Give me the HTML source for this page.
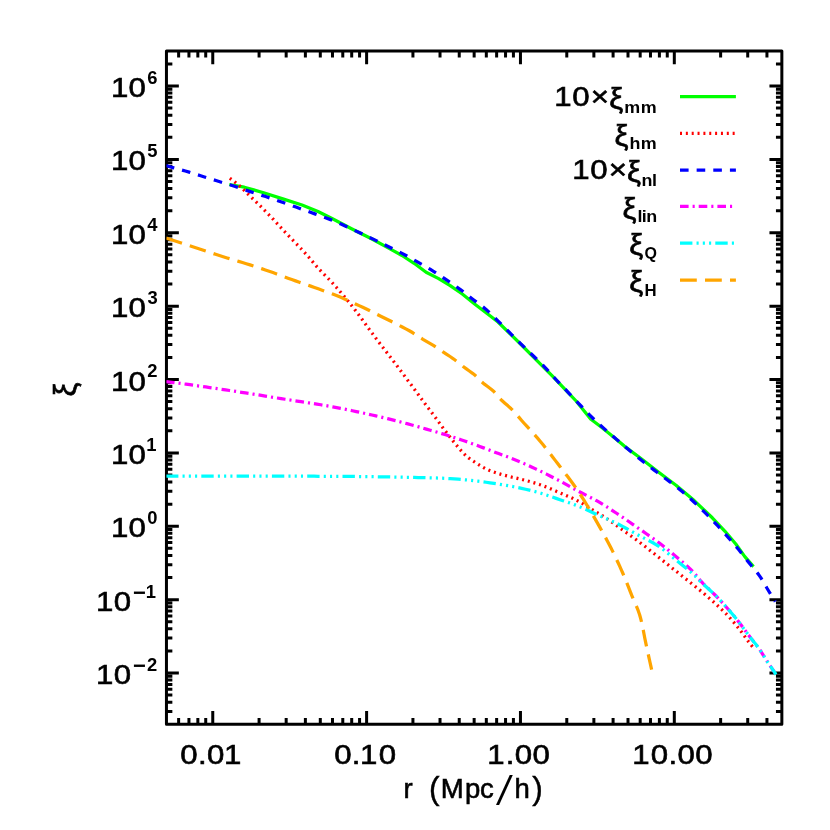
<!DOCTYPE html>
<html lang="en"><head><meta charset="utf-8"><title>Correlation functions</title>
<style>
html,body{margin:0;padding:0;background:#fff;}
body{width:830px;height:830px;overflow:hidden;}
svg{display:block;}
text{font-family:"Liberation Sans",sans-serif;fill:#000;}
.m{font-size:27.5px;stroke:#000;stroke-width:0.6px;}
.mn{font-size:22px;}
.x{stroke-width:0.6px;}
.p{font-size:31.7px;stroke-width:0.4px;}
.sl{font-size:40px;font-style:italic;stroke-width:0;}
.s{font-size:18.4px;font-weight:bold;}
.c{font-size:16px;font-weight:bold;}
</style></head><body>
<svg width="830" height="830" viewBox="0 0 830 830" style="will-change:transform">
<rect x="0" y="0" width="830" height="830" fill="#ffffff"/>
<path d="M178.63 724.3 v-6.4 M178.63 51 v6.4 M188.93 724.3 v-6.4 M188.93 51 v6.4 M197.85 724.3 v-6.4 M197.85 51 v6.4 M205.72 724.3 v-6.4 M205.72 51 v6.4 M212.76 724.3 v-13.3 M212.76 51 v13.3 M259.08 724.3 v-6.4 M259.08 51 v6.4 M286.17 724.3 v-6.4 M286.17 51 v6.4 M305.39 724.3 v-6.4 M305.39 51 v6.4 M320.3 724.3 v-6.4 M320.3 51 v6.4 M332.48 724.3 v-6.4 M332.48 51 v6.4 M342.78 724.3 v-6.4 M342.78 51 v6.4 M351.7 724.3 v-6.4 M351.7 51 v6.4 M359.57 724.3 v-6.4 M359.57 51 v6.4 M366.61 724.3 v-13.3 M366.61 51 v13.3 M412.93 724.3 v-6.4 M412.93 51 v6.4 M440.02 724.3 v-6.4 M440.02 51 v6.4 M459.24 724.3 v-6.4 M459.24 51 v6.4 M474.15 724.3 v-6.4 M474.15 51 v6.4 M486.33 724.3 v-6.4 M486.33 51 v6.4 M496.63 724.3 v-6.4 M496.63 51 v6.4 M505.55 724.3 v-6.4 M505.55 51 v6.4 M513.42 724.3 v-6.4 M513.42 51 v6.4 M520.46 724.3 v-13.3 M520.46 51 v13.3 M566.78 724.3 v-6.4 M566.78 51 v6.4 M593.87 724.3 v-6.4 M593.87 51 v6.4 M613.09 724.3 v-6.4 M613.09 51 v6.4 M628 724.3 v-6.4 M628 51 v6.4 M640.18 724.3 v-6.4 M640.18 51 v6.4 M650.48 724.3 v-6.4 M650.48 51 v6.4 M659.4 724.3 v-6.4 M659.4 51 v6.4 M667.27 724.3 v-6.4 M667.27 51 v6.4 M674.31 724.3 v-13.3 M674.31 51 v13.3 M720.63 724.3 v-6.4 M720.63 51 v6.4 M747.72 724.3 v-6.4 M747.72 51 v6.4 M766.94 724.3 v-6.4 M766.94 51 v6.4 M166.45 711.38 h5.9 M781.85 711.38 h-5.9 M166.45 702.21 h5.9 M781.85 702.21 h-5.9 M166.45 695.1 h5.9 M781.85 695.1 h-5.9 M166.45 689.29 h5.9 M781.85 689.29 h-5.9 M166.45 684.38 h5.9 M781.85 684.38 h-5.9 M166.45 680.12 h5.9 M781.85 680.12 h-5.9 M166.45 676.37 h5.9 M781.85 676.37 h-5.9 M166.45 673.01 h12.4 M781.85 673.01 h-12.4 M166.45 650.92 h5.9 M781.85 650.92 h-5.9 M166.45 638 h5.9 M781.85 638 h-5.9 M166.45 628.84 h5.9 M781.85 628.84 h-5.9 M166.45 621.73 h5.9 M781.85 621.73 h-5.9 M166.45 615.92 h5.9 M781.85 615.92 h-5.9 M166.45 611 h5.9 M781.85 611 h-5.9 M166.45 606.75 h5.9 M781.85 606.75 h-5.9 M166.45 602.99 h5.9 M781.85 602.99 h-5.9 M166.45 599.64 h12.4 M781.85 599.64 h-12.4 M166.45 577.55 h5.9 M781.85 577.55 h-5.9 M166.45 564.63 h5.9 M781.85 564.63 h-5.9 M166.45 555.46 h5.9 M781.85 555.46 h-5.9 M166.45 548.35 h5.9 M781.85 548.35 h-5.9 M166.45 542.54 h5.9 M781.85 542.54 h-5.9 M166.45 537.63 h5.9 M781.85 537.63 h-5.9 M166.45 533.37 h5.9 M781.85 533.37 h-5.9 M166.45 529.62 h5.9 M781.85 529.62 h-5.9 M166.45 526.26 h12.4 M781.85 526.26 h-12.4 M166.45 504.17 h5.9 M781.85 504.17 h-5.9 M166.45 491.25 h5.9 M781.85 491.25 h-5.9 M166.45 482.09 h5.9 M781.85 482.09 h-5.9 M166.45 474.97 h5.9 M781.85 474.97 h-5.9 M166.45 469.16 h5.9 M781.85 469.16 h-5.9 M166.45 464.25 h5.9 M781.85 464.25 h-5.9 M166.45 460 h5.9 M781.85 460 h-5.9 M166.45 456.24 h5.9 M781.85 456.24 h-5.9 M166.45 452.89 h12.4 M781.85 452.89 h-12.4 M166.45 430.8 h5.9 M781.85 430.8 h-5.9 M166.45 417.88 h5.9 M781.85 417.88 h-5.9 M166.45 408.71 h5.9 M781.85 408.71 h-5.9 M166.45 401.6 h5.9 M781.85 401.6 h-5.9 M166.45 395.79 h5.9 M781.85 395.79 h-5.9 M166.45 390.88 h5.9 M781.85 390.88 h-5.9 M166.45 386.62 h5.9 M781.85 386.62 h-5.9 M166.45 382.87 h5.9 M781.85 382.87 h-5.9 M166.45 379.51 h12.4 M781.85 379.51 h-12.4 M166.45 357.42 h5.9 M781.85 357.42 h-5.9 M166.45 344.5 h5.9 M781.85 344.5 h-5.9 M166.45 335.33 h5.9 M781.85 335.33 h-5.9 M166.45 328.22 h5.9 M781.85 328.22 h-5.9 M166.45 322.41 h5.9 M781.85 322.41 h-5.9 M166.45 317.5 h5.9 M781.85 317.5 h-5.9 M166.45 313.25 h5.9 M781.85 313.25 h-5.9 M166.45 309.49 h5.9 M781.85 309.49 h-5.9 M166.45 306.14 h12.4 M781.85 306.14 h-12.4 M166.45 284.05 h5.9 M781.85 284.05 h-5.9 M166.45 271.13 h5.9 M781.85 271.13 h-5.9 M166.45 261.96 h5.9 M781.85 261.96 h-5.9 M166.45 254.85 h5.9 M781.85 254.85 h-5.9 M166.45 249.04 h5.9 M781.85 249.04 h-5.9 M166.45 244.13 h5.9 M781.85 244.13 h-5.9 M166.45 239.87 h5.9 M781.85 239.87 h-5.9 M166.45 236.12 h5.9 M781.85 236.12 h-5.9 M166.45 232.76 h12.4 M781.85 232.76 h-12.4 M166.45 210.67 h5.9 M781.85 210.67 h-5.9 M166.45 197.75 h5.9 M781.85 197.75 h-5.9 M166.45 188.58 h5.9 M781.85 188.58 h-5.9 M166.45 181.47 h5.9 M781.85 181.47 h-5.9 M166.45 175.66 h5.9 M781.85 175.66 h-5.9 M166.45 170.75 h5.9 M781.85 170.75 h-5.9 M166.45 166.5 h5.9 M781.85 166.5 h-5.9 M166.45 162.74 h5.9 M781.85 162.74 h-5.9 M166.45 159.38 h12.4 M781.85 159.38 h-12.4 M166.45 137.3 h5.9 M781.85 137.3 h-5.9 M166.45 124.38 h5.9 M781.85 124.38 h-5.9 M166.45 115.21 h5.9 M781.85 115.21 h-5.9 M166.45 108.1 h5.9 M781.85 108.1 h-5.9 M166.45 102.29 h5.9 M781.85 102.29 h-5.9 M166.45 97.37 h5.9 M781.85 97.37 h-5.9 M166.45 93.12 h5.9 M781.85 93.12 h-5.9 M166.45 89.37 h5.9 M781.85 89.37 h-5.9 M166.45 86.01 h12.4 M781.85 86.01 h-12.4 M166.45 63.92 h5.9 M781.85 63.92 h-5.9" fill="none" stroke="#000" stroke-width="3.0"/>
<rect x="166.45" y="51" width="615.4" height="673.3" fill="none" stroke="#000" stroke-width="3.0" stroke-linejoin="round"/>
<defs><clipPath id="clip"><rect x="166.45" y="51" width="615.4" height="673.3"/></clipPath></defs>
<g clip-path="url(#clip)" fill="none" stroke-width="3.25" stroke-linejoin="round">
<path d="M229.3 184.5 L244.3 187.2 L263.6 192.7 L282.8 198.9 L302 205 L318 211.5 L332 218.5 L352 229 L372 239 L390 248.9 L402 255.5 L414.1 263.3 L426.1 272.3 L438.2 278.4 L450.2 285.6 L462.3 294 L474.3 303.7 L490 315.7 L498 322 L518 341.5 L540 363.6 L552 375.7 L564.1 388.3 L576.1 401 L590.6 419 L600.2 426.3 L612.3 435.9 L624.3 446.1 L640 457.8 L658 471.7 L676 485.2 L694.2 500.6 L712.3 517.8 L725 531.3 L735.8 544 L744.8 556.6 L753.5 566.6" stroke="#00ff00"/>
<path d="M229.8 178.2 L233.05 180.57 L236.2 183.05 L239.25 185.62 L242.18 188.35 L245.03 191.17 L247.9 193.98 L250.79 196.76 L253.67 199.54 L256.55 202.33 L259.41 205.13 L262.26 207.95 L265.08 210.8 L267.87 213.67 L270.65 216.56 L273.4 219.47 L276.13 222.41 L278.85 225.35 L281.57 228.29 L284.29 231.23 L287.02 234.16 L289.8 237.06 L292.6 239.92 L295.41 242.78 L298.19 245.67 L300.96 248.56 L303.7 251.49 L306.4 254.45 L309.03 257.47 L311.6 260.54 L314.18 263.62 L316.79 266.65 L319.49 269.61 L322.27 272.5 L325.09 275.35 L327.91 278.2 L330.69 281.08 L333.39 284.04 L336.06 287.02 L338.71 290.03 L341.33 293.07 L343.93 296.13 L346.5 299.21 L349.04 302.31 L351.54 305.43 L354.02 308.57 L356.45 311.76 L358.84 314.97 L361.21 318.2 L363.57 321.44 L365.92 324.69 L368.27 327.94 L370.64 331.17 L373.04 334.39 L375.44 337.6 L377.85 340.8 L380.27 343.99 L382.71 347.17 L385.15 350.34 L387.6 353.52 L390.04 356.69 L392.48 359.87 L394.91 363.06 L397.32 366.26 L399.73 369.46 L402.13 372.67 L404.52 375.89 L406.9 379.11 L409.29 382.33 L411.67 385.55 L414.05 388.78 L416.41 392.01 L418.78 395.25 L421.15 398.48 L423.53 401.7 L425.93 404.91 L428.34 408.11 L430.75 411.31 L433.16 414.51 L435.56 417.72 L437.93 420.95 L440.3 424.19 L442.68 427.41 L445.09 430.61 L447.5 433.81 L449.93 437.01 L452.39 440.18 L454.9 443.29 L457.48 446.37 L460.08 449.46 L462.76 452.47 L465.56 455.31 L468.57 457.88 L471.82 460.21 L475.21 462.42 L478.59 464.57 L482.01 466.7 L485.52 468.64 L489.15 470.27 L492.9 471.7 L496.71 472.98 L500.53 474.17 L504.39 475.25 L508.27 476.26 L512.17 477.21 L516.08 478.08 L519.98 479 L523.87 479.98 L527.75 480.99 L531.62 482.06 L535.46 483.19 L539.26 484.42 L543.02 485.78 L546.75 487.25 L550.46 488.78 L554.15 490.36 L557.84 491.93 L561.54 493.49 L565.23 495.06 L568.92 496.67 L572.57 498.33 L576.17 500.07 L579.7 501.91 L583.17 503.91 L586.58 506.01 L589.98 508.16 L593.37 510.3 L596.79 512.4 L600.21 514.49 L603.62 516.59 L607 518.75 L610.33 520.97 L613.6 523.29 L616.83 525.66 L620.05 528.04 L623.28 530.42 L626.54 532.75 L629.8 535.08 L633.06 537.42 L636.29 539.78 L639.5 542.18 L642.67 544.62 L645.83 547.09 L648.98 549.58 L652.12 552.06 L655.26 554.55 L658.4 557.05 L661.52 559.55 L664.65 562.06 L667.78 564.56 L670.91 567.07 L674.04 569.57 L677.17 572.07 L680.3 574.58 L683.43 577.08 L686.56 579.58 L689.69 582.08 L692.82 584.58 L695.94 587.09 L699.07 589.6 L702.17 592.14 L705.24 594.71 L708.29 597.31 L711.31 599.95 L714.3 602.62 L717.26 605.32 L720.19 608.05 L723.09 610.83 L725.92 613.67 L728.66 616.57 L731.35 619.55 L733.98 622.58 L736.55 625.66 L739.06 628.78 L741.48 631.97 L743.84 635.21 L746.18 638.46 L748.56 641.69 L751.01 644.86 L753.5 648" stroke="#ff0000" stroke-dasharray="2 3.85"/>
<path d="M166 165.6 L169.84 166.75 L173.71 167.84 L177.58 168.88 L181.46 169.92 L185.32 171 L189.17 172.15 L193 173.34 L196.82 174.56 L200.65 175.78 L204.48 176.98 L208.31 178.18 L212.14 179.38 L215.97 180.57 L219.8 181.75 L223.65 182.92 L227.49 184.08 L231.32 185.25 L235.15 186.47 L238.95 187.74 L242.75 189.04 L246.55 190.34 L250.35 191.62 L254.17 192.86 L257.99 194.1 L261.81 195.33 L265.62 196.57 L269.43 197.84 L273.24 199.11 L277.04 200.4 L280.83 201.7 L284.62 203.02 L288.41 204.36 L292.19 205.71 L295.96 207.07 L299.74 208.43 L303.51 209.79 L307.29 211.16 L311.06 212.53 L314.83 213.9 L318.61 215.25 L322.39 216.6 L326.17 217.96 L329.92 219.38 L333.64 220.87 L337.33 222.44 L340.99 224.07 L344.64 225.74 L348.28 227.44 L351.92 229.15 L355.55 230.86 L359.19 232.55 L362.83 234.24 L366.47 235.94 L370.1 237.66 L373.72 239.38 L377.33 241.13 L380.93 242.9 L384.53 244.68 L388.12 246.47 L391.72 248.25 L395.33 250.01 L398.93 251.78 L402.51 253.59 L406.05 255.48 L409.55 257.43 L413.04 259.42 L416.52 261.42 L420.01 263.41 L423.5 265.39 L426.98 267.39 L430.44 269.43 L433.85 271.53 L437.22 273.71 L440.56 275.93 L443.89 278.18 L447.22 280.42 L450.55 282.67 L453.87 284.93 L457.16 287.22 L460.41 289.57 L463.6 292 L466.75 294.48 L469.89 296.98 L473.05 299.46 L476.26 301.88 L479.5 304.27 L482.7 306.69 L485.82 309.2 L488.8 311.86 L491.69 314.65 L494.52 317.5 L497.35 320.36 L500.2 323.18 L503.05 326.02 L505.88 328.86 L508.71 331.71 L511.54 334.55 L514.37 337.39 L517.22 340.22 L520.07 343.04 L522.94 345.85 L525.82 348.65 L528.7 351.44 L531.58 354.24 L534.45 357.03 L537.33 359.84 L540.2 362.64 L543.07 365.44 L545.87 368.31 L548.59 371.27 L551.25 374.27 L553.92 377.27 L556.62 380.24 L559.36 383.17 L562.13 386.07 L564.91 388.97 L567.68 391.88 L570.44 394.79 L573.21 397.69 L575.97 400.6 L578.74 403.51 L581.49 406.43 L584.23 409.37 L586.98 412.29 L589.77 415.17 L592.63 417.99 L595.54 420.75 L598.48 423.48 L601.45 426.19 L604.43 428.87 L607.44 431.52 L610.48 434.15 L613.52 436.77 L616.56 439.39 L619.6 442.01 L622.64 444.63 L625.69 447.24 L628.75 449.83 L631.81 452.42 L634.89 455 L637.99 457.55 L641.12 460.05 L644.28 462.53 L647.46 464.98 L650.65 467.42 L653.84 469.85 L657.04 472.27 L660.25 474.69 L663.48 477.08 L666.72 479.45 L669.94 481.84 L673.14 484.26 L676.29 486.74 L679.4 489.27 L682.49 491.84 L685.54 494.45 L688.57 497.09 L691.56 499.77 L694.51 502.48 L697.43 505.22 L700.33 508 L703.19 510.82 L706.03 513.66 L708.85 516.52 L711.64 519.41 L714.41 522.32 L717.16 525.23 L719.89 528.17 L722.6 531.13 L725.29 534.11 L727.96 537.11 L730.61 540.13 L733.24 543.17 L735.84 546.22 L738.41 549.3 L740.94 552.41 L743.43 555.56 L745.89 558.73 L748.35 561.9 L750.84 565.05 L753.41 568.15 L755.99 571.24 L758.47 574.38 L760.77 577.65 L762.88 581.05 L764.89 584.53 L766.89 588.03 L768.96 591.47 L771.06 594.89 L773.17 598.3 L775.3 601.7" stroke="#0000ff" stroke-dasharray="8.6 8.04"/>
<path d="M166 381.5 L169.98 382.03 L173.96 382.56 L177.94 383.09 L181.92 383.63 L185.89 384.17 L189.87 384.72 L193.85 385.28 L197.82 385.84 L201.79 386.4 L205.77 386.97 L209.74 387.54 L213.71 388.12 L217.69 388.7 L221.66 389.29 L225.63 389.89 L229.6 390.49 L233.56 391.09 L237.53 391.7 L241.5 392.3 L245.47 392.92 L249.43 393.53 L253.4 394.16 L257.36 394.79 L261.33 395.43 L265.29 396.07 L269.25 396.71 L273.22 397.35 L277.18 397.99 L281.14 398.63 L285.11 399.26 L289.07 399.88 L293.04 400.49 L297.01 401.1 L300.98 401.69 L304.95 402.29 L308.92 402.89 L312.89 403.5 L316.85 404.13 L320.82 404.77 L324.77 405.44 L328.72 406.13 L332.67 406.85 L336.62 407.58 L340.56 408.34 L344.5 409.12 L348.44 409.92 L352.37 410.73 L356.3 411.56 L360.23 412.4 L364.15 413.25 L368.07 414.12 L371.98 415 L375.89 415.89 L379.8 416.8 L383.71 417.74 L387.61 418.69 L391.5 419.66 L395.4 420.64 L399.29 421.64 L403.17 422.65 L407.05 423.68 L410.93 424.71 L414.8 425.77 L418.66 426.87 L422.52 427.99 L426.38 429.1 L430.24 430.21 L434.09 431.32 L437.95 432.44 L441.79 433.59 L445.63 434.77 L449.46 435.98 L453.28 437.2 L457.1 438.44 L460.91 439.71 L464.71 440.99 L468.51 442.31 L472.29 443.66 L476.05 445.04 L479.81 446.45 L483.57 447.88 L487.32 449.31 L491.07 450.73 L494.83 452.15 L498.59 453.55 L502.36 454.94 L506.12 456.35 L509.88 457.77 L513.62 459.23 L517.33 460.73 L521.03 462.28 L524.71 463.88 L528.38 465.52 L532.03 467.2 L535.67 468.9 L539.29 470.62 L542.91 472.36 L546.51 474.13 L550.1 475.93 L553.68 477.76 L557.24 479.6 L560.79 481.48 L564.31 483.41 L567.82 485.36 L571.32 487.32 L574.83 489.27 L578.36 491.19 L581.91 493.05 L585.49 494.88 L589.07 496.71 L592.64 498.56 L596.16 500.46 L599.64 502.45 L603.07 504.53 L606.48 506.66 L609.85 508.83 L613.22 511.04 L616.57 513.25 L619.91 515.47 L623.23 517.72 L626.54 520 L629.83 522.29 L633.12 524.59 L636.41 526.9 L639.71 529.18 L643.03 531.45 L646.34 533.72 L649.65 536 L652.94 538.3 L656.19 540.65 L659.39 543.06 L662.56 545.52 L665.7 548.02 L668.82 550.56 L671.91 553.13 L674.97 555.72 L678.03 558.32 L681.11 560.92 L684.18 563.53 L687.21 566.19 L690.16 568.91 L692.99 571.73 L695.64 574.71 L698.1 577.9 L700.69 580.96 L703.46 583.86 L706.33 586.66 L709.25 589.43 L712.17 592.19 L715.05 595 L717.83 597.89 L720.57 600.82 L723.29 603.78 L725.98 606.76 L728.64 609.77 L731.27 612.81 L733.86 615.88 L736.4 618.98 L738.89 622.12 L741.31 625.32 L743.7 628.55 L746.08 631.79 L748.47 635.01 L750.91 638.2 L753.44 641.33 L755.96 644.46 L758.35 647.67 L760.59 650.99 L762.74 654.38 L764.87 657.8 L767.03 661.18 L769.26 664.52 L771.54 667.83 L773.8 671.14 L776 674.5" stroke="#ff00ff" stroke-dasharray="8.6 4 2.1 4"/>
<path d="M166 476 L170 476 L174.01 476.01 L178.01 476.01 L182.02 476.01 L186.02 476.01 L190.02 476.02 L194.03 476.02 L198.03 476.03 L202.03 476.03 L206.04 476.04 L210.04 476.04 L214.05 476.05 L218.05 476.05 L222.05 476.06 L226.06 476.06 L230.06 476.07 L234.06 476.08 L238.07 476.08 L242.07 476.09 L246.08 476.09 L250.08 476.1 L254.08 476.11 L258.09 476.11 L262.09 476.12 L266.1 476.13 L270.1 476.13 L274.1 476.14 L278.11 476.15 L282.11 476.16 L286.11 476.16 L290.12 476.17 L294.12 476.18 L298.13 476.19 L302.13 476.2 L306.13 476.21 L310.14 476.22 L314.14 476.24 L318.14 476.25 L322.15 476.26 L326.15 476.28 L330.16 476.29 L334.16 476.31 L338.16 476.33 L342.17 476.36 L346.17 476.39 L350.17 476.43 L354.18 476.47 L358.18 476.51 L362.18 476.56 L366.19 476.62 L370.19 476.67 L374.2 476.73 L378.2 476.79 L382.2 476.86 L386.21 476.92 L390.21 476.99 L394.21 477.06 L398.22 477.14 L402.22 477.21 L406.22 477.29 L410.22 477.37 L414.23 477.44 L418.23 477.53 L422.23 477.62 L426.24 477.71 L430.24 477.82 L434.24 477.94 L438.25 478.08 L442.24 478.23 L446.24 478.4 L450.24 478.63 L454.23 478.91 L458.23 479.22 L462.22 479.57 L466.21 479.93 L470.19 480.31 L474.17 480.74 L478.15 481.21 L482.12 481.72 L486.09 482.26 L490.05 482.82 L494.01 483.4 L497.97 484 L501.93 484.64 L505.88 485.31 L509.82 486.02 L513.76 486.76 L517.68 487.54 L521.6 488.35 L525.51 489.23 L529.41 490.15 L533.29 491.13 L537.16 492.17 L541 493.27 L544.81 494.48 L548.61 495.75 L552.4 497.06 L556.19 498.38 L559.98 499.67 L563.78 500.94 L567.58 502.22 L571.36 503.53 L575.12 504.9 L578.85 506.34 L582.53 507.89 L586.19 509.52 L589.82 511.21 L593.45 512.91 L597.09 514.59 L600.75 516.22 L604.42 517.83 L608.09 519.43 L611.75 521.06 L615.39 522.73 L618.98 524.49 L622.52 526.34 L626.03 528.27 L629.52 530.23 L633 532.21 L636.5 534.18 L640.02 536.08 L643.6 537.92 L647.18 539.74 L650.75 541.59 L654.25 543.52 L657.65 545.58 L660.93 547.81 L664.12 550.21 L667.25 552.72 L670.34 555.29 L673.43 557.88 L676.53 560.43 L679.65 562.94 L682.77 565.45 L685.88 567.98 L688.96 570.54 L691.98 573.17 L694.92 575.87 L697.74 578.72 L700.57 581.55 L703.48 584.3 L706.43 587.01 L709.4 589.71 L712.34 592.43 L715.22 595.21 L718.02 598.05 L720.77 600.96 L723.48 603.9 L726.16 606.89 L728.8 609.9 L731.41 612.95 L733.98 616.02 L736.52 619.11 L738.99 622.25 L741.4 625.45 L743.79 628.67 L746.16 631.9 L748.55 635.11 L750.98 638.29 L753.5 641.41 L756.02 644.53 L758.4 647.74 L760.63 651.06 L762.77 654.44 L764.9 657.84 L767.05 661.22 L769.28 664.54 L771.55 667.84 L773.81 671.15 L776 674.5" stroke="#00ffff" stroke-dasharray="12.4 4.15 2.1 4.15 2.1 4.15 2.1 4.15"/>
<path d="M166 238 L169.82 239.23 L173.64 240.46 L177.46 241.69 L181.28 242.93 L185.1 244.17 L188.92 245.42 L192.73 246.67 L196.54 247.92 L200.36 249.18 L204.16 250.46 L207.96 251.75 L211.77 253.04 L215.57 254.31 L219.39 255.56 L223.21 256.78 L227.05 257.95 L230.9 259.09 L234.75 260.22 L238.6 261.35 L242.45 262.5 L246.28 263.69 L250.11 264.9 L253.93 266.14 L257.75 267.39 L261.56 268.66 L265.36 269.94 L269.15 271.25 L272.93 272.59 L276.7 273.97 L280.47 275.37 L284.23 276.78 L287.99 278.18 L291.76 279.56 L295.54 280.9 L299.33 282.22 L303.13 283.53 L306.92 284.84 L310.72 286.15 L314.51 287.47 L318.29 288.81 L322.08 290.16 L325.85 291.52 L329.62 292.9 L333.37 294.33 L337.11 295.81 L340.81 297.34 L344.5 298.94 L348.16 300.57 L351.82 302.24 L355.46 303.92 L359.1 305.63 L362.73 307.34 L366.35 309.08 L369.95 310.83 L373.56 312.61 L377.15 314.39 L380.75 316.18 L384.34 317.97 L387.94 319.75 L391.54 321.52 L395.14 323.31 L398.71 325.13 L402.27 326.99 L405.83 328.86 L409.35 330.79 L412.83 332.78 L416.23 334.92 L419.56 337.17 L422.95 339.3 L426.41 341.34 L429.89 343.35 L433.34 345.4 L436.72 347.56 L440.04 349.82 L443.36 352.08 L446.71 354.3 L450.06 356.52 L453.36 358.8 L456.59 361.18 L459.7 363.72 L462.82 366.25 L466.05 368.63 L469.34 370.96 L472.59 373.33 L475.68 375.86 L478.52 378.69 L481.33 381.56 L484.4 384.15 L487.64 386.56 L490.87 388.98 L493.92 391.55 L496.61 394.49 L499.12 397.65 L501.91 400.51 L504.9 403.2 L507.95 405.83 L510.92 408.54 L513.72 411.4 L516.4 414.38 L519.03 417.42 L521.65 420.47 L524.32 423.47 L527.02 426.45 L529.73 429.41 L532.43 432.38 L535.12 435.37 L537.77 438.38 L540.36 441.43 L542.91 444.53 L545.42 447.66 L547.9 450.82 L550.36 453.99 L552.81 457.18 L555.24 460.38 L557.67 463.57 L560.11 466.76 L562.56 469.95 L565 473.14 L567.44 476.34 L569.85 479.55 L572.24 482.78 L574.58 486.04 L576.87 489.33 L579.1 492.65 L581.29 496.01 L583.44 499.39 L585.56 502.8 L587.65 506.24 L589.71 509.69 L591.75 513.15 L593.77 516.62 L595.78 520.11 L597.77 523.59 L599.75 527.08 L601.71 530.58 L603.65 534.1 L605.57 537.63 L607.47 541.17 L609.33 544.73 L611.15 548.3 L612.94 551.89 L614.69 555.5 L616.42 559.13 L618.12 562.77 L619.79 566.42 L621.43 570.09 L623.04 573.76 L624.62 577.45 L626.14 581.16 L627.63 584.89 L629.1 588.63 L630.56 592.37 L632.04 596.1 L633.6 599.81 L635.21 603.51 L636.81 607.22 L638.31 610.94 L639.61 614.71 L640.69 618.54 L641.64 622.42 L642.49 626.34 L643.29 630.28 L644.05 634.24 L644.81 638.2 L645.61 642.14 L646.45 646.07 L647.3 649.99 L648.16 653.92 L649.01 657.84 L649.87 661.76 L650.74 665.68 L651.6 669.6" stroke="#ffa500" stroke-dasharray="16.8 8.2"/>
</g>
<text class="m" transform="scale(1.135 1.03)" x="84.66 100.24" y="664.09">10</text>
<text class="s"><tspan class="mn" x="133.07" y="673.23">&#8722;</tspan><tspan x="146.93" y="670.91">2</tspan></text>
<text class="m" transform="scale(1.135 1.03)" x="84.66 100.24" y="592.85">10</text>
<text class="s"><tspan class="mn" x="133.07" y="599.85">&#8722;</tspan><tspan x="145.76" y="597.54">1</tspan></text>
<text class="m" transform="scale(1.135 1.03)" x="97.7 113.28" y="521.61">10</text>
<text class="s" x="147.3" y="524.16">0</text>
<text class="m" transform="scale(1.135 1.03)" x="97.7 113.28" y="450.38">10</text>
<text class="s" x="146.16" y="450.79">1</text>
<text class="m" transform="scale(1.135 1.03)" x="97.7 113.28" y="379.14">10</text>
<text class="s" x="147.33" y="377.41">2</text>
<text class="m" transform="scale(1.135 1.03)" x="97.7 113.28" y="307.9">10</text>
<text class="s" x="147.41" y="304.04">3</text>
<text class="m" transform="scale(1.135 1.03)" x="97.7 113.28" y="236.66">10</text>
<text class="s" x="147.19" y="230.66">4</text>
<text class="m" transform="scale(1.135 1.03)" x="97.7 113.28" y="165.42">10</text>
<text class="s" x="147.26" y="157.28">5</text>
<text class="m" transform="scale(1.135 1.03)" x="97.7 113.28" y="94.18">10</text>
<text class="s" x="147.28" y="83.91">6</text>
<text class="m" transform="scale(1.135 1.03)" x="158.88 174.47 182.41 197.42" y="741.94">0.01</text>
<text class="m" transform="scale(1.135 1.03)" x="294.43 310.02 317.29 333.64" y="741.94">0.10</text>
<text class="m" transform="scale(1.135 1.03)" x="429.31 445.58 453.51 469.19" y="741.94">1.00</text>
<text class="m" transform="scale(1.135 1.03)" x="557.02 573.38 588.97 596.9 612.58" y="741.94">10.00</text>
<text class="m" y="797.6"><tspan x="403.49">r </tspan><tspan class="p" x="428.93" y="798.7">(</tspan><tspan x="440.75 464.99 479.9" y="797.6">Mpc</tspan><tspan class="sl" x="498.26" y="804.8">/</tspan><tspan x="514.44" y="797.6">h</tspan><tspan class="p" x="532.26" y="798.7">)</tspan></text>
<text class="m x" transform="translate(76 396.4) rotate(-90) scale(1.135 1.13)">&#958;</text>
<path d="M680 96.7 H735.9" fill="none" stroke="#00ff00" stroke-width="3.25"/>
<text class="m" transform="scale(1.135 1.0)" x="488.28 504.29 520.51" y="105.7">10&#215;</text>
<text class="m x" transform="scale(1.135 1.07)" x="536.73" y="101.78">&#958;</text>
<text class="c" transform="scale(1.12 1.0)" x="557.32 572.01" y="112.8">mm</text>
<path d="M680 133.4 H735.9" fill="none" stroke="#ff0000" stroke-width="3.25" stroke-dasharray="2 3.85"/>
<text class="m x" transform="scale(1.135 1.07)" x="541.48" y="136.07">&#958;</text>
<text class="c" transform="scale(1.12 1.0)" x="562.15 572.01" y="149.5">hm</text>
<path d="M680 170 H735.9" fill="none" stroke="#0000ff" stroke-width="3.25" stroke-dasharray="8.6 8.04"/>
<text class="m" transform="scale(1.135 1.0)" x="504.18 520.15 536.37" y="179">10&#215;</text>
<text class="m x" transform="scale(1.135 1.07)" x="552.41" y="170.28">&#958;</text>
<text class="c" transform="scale(1.12 1.0)" x="572.81 582.21" y="186.1">nl</text>
<path d="M680 206.4 H735.9" fill="none" stroke="#ff00ff" stroke-width="3.25" stroke-dasharray="8.6 4 2.1 4"/>
<text class="m x" transform="scale(1.135 1.07)" x="548.36" y="204.3">&#958;</text>
<text class="c" transform="scale(1.12 1.0)" x="569.12 573.1 577.05" y="222.5">lin</text>
<path d="M680 243.2 H735.9" fill="none" stroke="#00ffff" stroke-width="3.25" stroke-dasharray="12.4 4.15 2.1 4.15 2.1 4.15 2.1 4.15"/>
<text class="m x" transform="scale(1.135 1.07)" x="554.35" y="238.69">&#958;</text>
<text class="c" x="644.54" y="259.3">Q</text>
<path d="M680 280 H735.9" fill="none" stroke="#ffa500" stroke-width="3.25" stroke-dasharray="16.8 8.2"/>
<text class="m x" transform="scale(1.135 1.07)" x="554.35" y="273.08">&#958;</text>
<text class="c" transform="scale(1.05 1.0)" x="613.85" y="296.1">H</text>
</svg></body></html>
